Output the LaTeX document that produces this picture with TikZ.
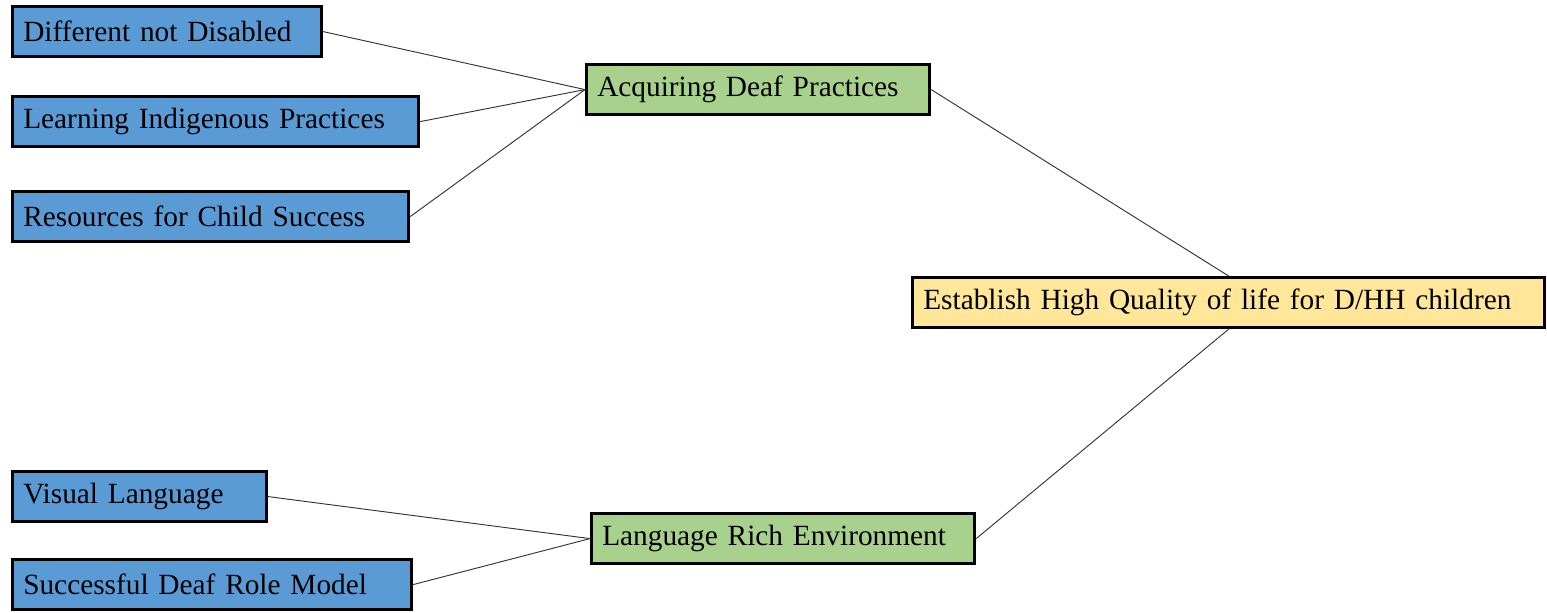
\documentclass[tikz,border=0pt]{standalone}
\usepackage{fontspec}
\setmainfont{Liberation Serif}
\definecolor{boxblue}{HTML}{5B9BD5}
\definecolor{boxgreen}{HTML}{A9D18E}
\definecolor{boxyellow}{HTML}{FFE699}
\begin{document}
\begin{tikzpicture}[x=0.75pt,y=-0.75pt,
  box/.style={draw=black, line width=2.4pt, inner xsep=8pt, inner ysep=0pt,
    minimum height=37.5pt, align=left, anchor=north west,
    font=\fontsize{22}{26}\selectfont},
  blue box/.style={box, fill=boxblue},
  green box/.style={box, fill=boxgreen},
  yellow box/.style={box, fill=boxyellow},
  link/.style={draw=black!80, line width=0.7pt}]
\useasboundingbox (0,0) rectangle (1547,613);
\node[blue box, text width=215.75pt] (dnd) at (11,5) {Different not Disabled};
\node[blue box, text width=288.5pt] (lip) at (11,95) {Learning Indigenous Practices};
\node[blue box, text width=281pt] (rcs) at (11,190) {Resources for Child Success};
\node[green box, text width=241.25pt] (adp) at (585,63) {Acquiring Deaf Practices};
\node[yellow box, text width=458pt] (est) at (911,276) {Establish High Quality of life for D/HH children};
\node[green box, text width=271.25pt] (lre) at (590,512) {Language Rich Environment};
\node[blue box, text width=174.5pt] (vl) at (11,470) {Visual Language};
\node[blue box, text width=283.25pt] (sdr) at (11,558) {Successful Deaf Role Model};
\draw[link] (dnd.east) -- (adp.west);
\draw[link] (lip.east) -- (adp.west);
\draw[link] (rcs.east) -- (adp.west);
\draw[link] (adp.east) -- (est.north);
\draw[link] (lre.east) -- (est.south);
\draw[link] (vl.east) -- (lre.west);
\draw[link] (sdr.east) -- (lre.west);
\end{tikzpicture}
\end{document}
